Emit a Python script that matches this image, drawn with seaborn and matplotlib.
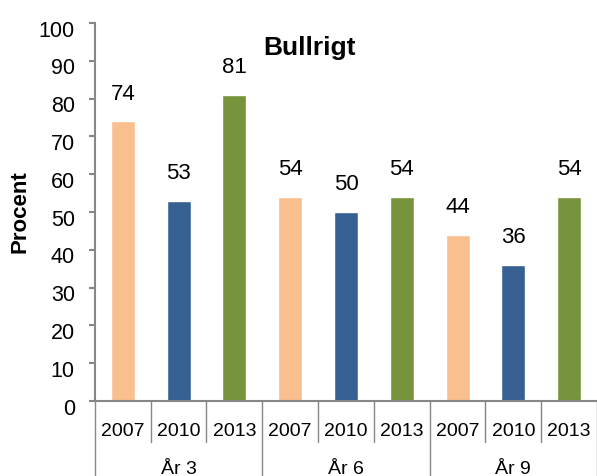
import matplotlib
matplotlib.use('Agg')
import matplotlib.pyplot as plt
import matplotlib.transforms as mtransforms
import seaborn as sns
import pandas as pd

groups = ['År 3', 'År 6', 'År 9']
years = ['2007', '2010', '2013']
values = {
    'År 3': [74, 53, 81],
    'År 6': [54, 50, 54],
    'År 9': [44, 36, 54],
}
colors = ['#F9BF8F', '#376092', '#77933C']

rows = []
for g in groups:
    for y, v in zip(years, values[g]):
        rows.append({'slot': f'{g} {y}', 'group': g, 'year': y, 'value': v})
df = pd.DataFrame(rows)
order = list(df['slot'])

sns.set_style('white')
plt.rcParams['font.family'] = ['Liberation Sans', 'DejaVu Sans']
plt.rcParams['text.color'] = 'black'
plt.rcParams['ytick.labelcolor'] = 'black'
plt.rcParams['axes.labelcolor'] = 'black'

fig = plt.figure(figsize=(5.97, 4.76), dpi=100)
ax = fig.add_axes([0.159, 0.1576, 0.841, 0.794])

sns.barplot(data=df, x='slot', y='value', hue='year', order=order,
            palette=colors, dodge=False, width=0.43, saturation=1,
            legend=False, ax=ax)

for c in ax.containers:
    ax.bar_label(c, fmt='%d', padding=12, fontsize=16, color='black')

ax.set_ylim(0, 100)
ax.set_xlim(-0.5, len(order) - 0.5)
ax.set_yticks(range(0, 101, 10))
ax.tick_params(axis='y', left=True, direction='out', length=4.5, width=1.5,
               color='#868686', labelsize=15.5, labelcolor='black', pad=10)
# labels sit a little below their ticks, as in the original
shift = mtransforms.ScaledTranslation(0, -4 / 72, fig.dpi_scale_trans)
for lab in ax.get_yticklabels():
    lab.set_transform(lab.get_transform() + shift)
ax.set_xticks([])
ax.set_xlabel('')
ax.set_ylabel('Procent', fontsize=16, fontweight='bold', labelpad=6,
              color='black')

for side in ['top', 'right']:
    ax.spines[side].set_visible(False)
for side in ['left', 'bottom']:
    ax.spines[side].set_color('#868686')
    ax.spines[side].set_linewidth(1.5)

ax.text(0.428, 0.935, 'Bullrigt', transform=ax.transAxes, ha='center',
        va='center', fontsize=19, fontweight='bold', color='black')

# two-level category axis
trans = mtransforms.blended_transform_factory(ax.transData, ax.transAxes)
for i, slot in enumerate(order):
    ax.text(i, -0.082, df['year'][i], transform=trans, ha='center',
            va='center', fontsize=14, color='black')
for k in range(len(order) + 1):
    xb = k - 0.5
    ylow = -0.21 if k % 3 == 0 else -0.108
    ax.plot([xb, xb], [0, ylow], transform=trans, color='#868686',
            lw=1.0, clip_on=False)
for j, g in enumerate(groups):
    ax.text(j * 3 + 1, -0.18, g, transform=trans, ha='center',
            va='center', fontsize=14, color='black')

fig.savefig('out.png', dpi=100)
